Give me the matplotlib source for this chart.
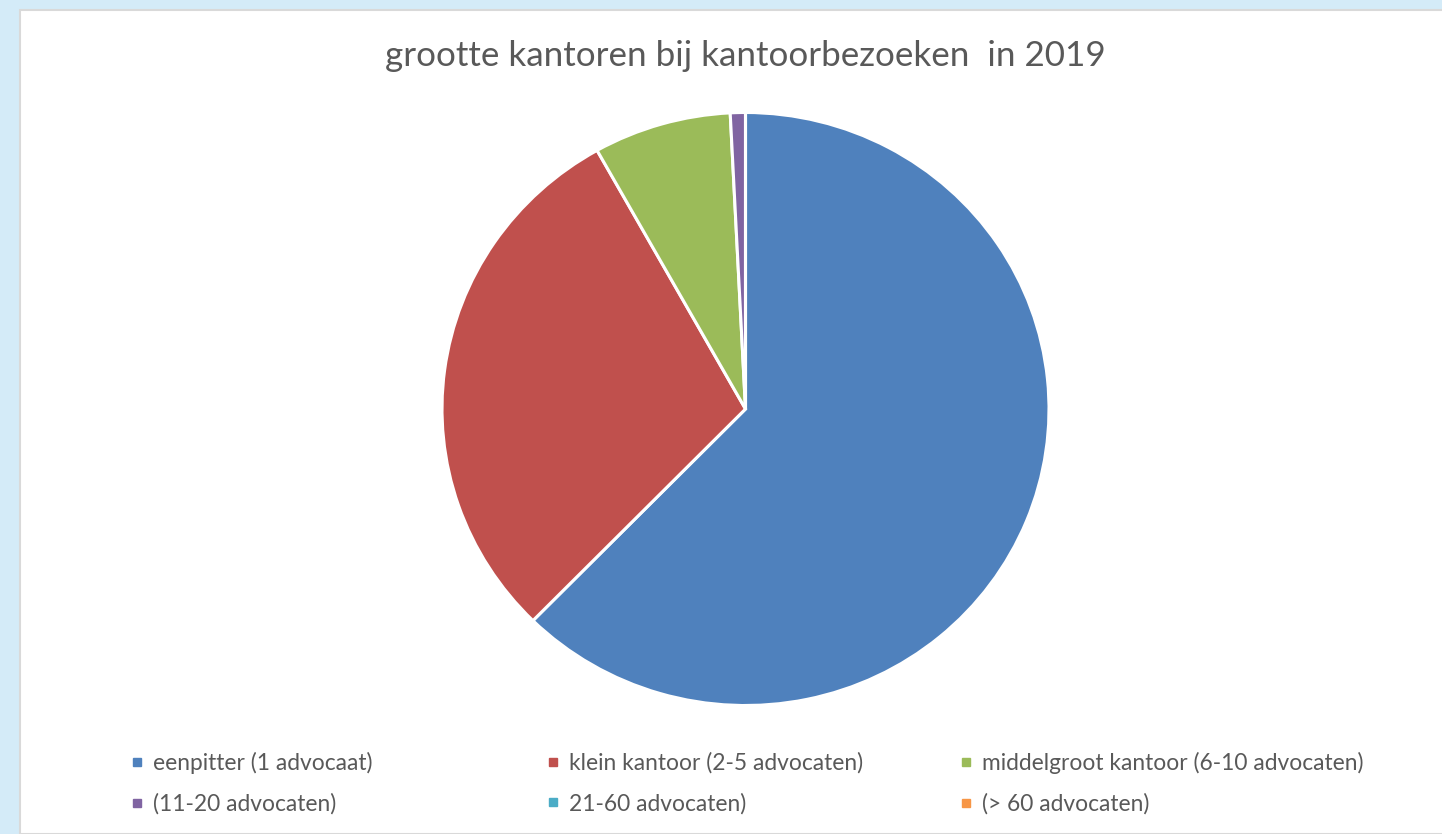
"""Pie chart: grootte kantoren bij kantoorbezoeken in 2019."""

import matplotlib

matplotlib.use("Agg")
import matplotlib.pyplot as plt
from matplotlib.lines import Line2D
from matplotlib.patches import Rectangle

W, H, DPI = 1442, 834, 100

TITLE = "grootte kantoren bij kantoorbezoeken  in 2019"

categories = [
    "eenpitter (1 advocaat)",
    "klein kantoor (2-5 advocaten)",
    "middelgroot kantoor (6-10 advocaten)",
    "(11-20 advocaten)",
    "21-60 advocaten)",
    "(> 60 advocaten)",
]
# share of office visits (%)
shares = [62.1, 29.4, 7.3, 0.8, 0.0, 0.0]
colors = ["#4F81BD", "#C0504D", "#9BBB59", "#8064A2", "#4BACC6", "#F79646"]

TEXT = "#595959"
FONT = "Lato"

fig = plt.figure(figsize=(W / DPI, H / DPI), dpi=DPI)
fig.patch.set_facecolor("#D4EBF8")

# white chart area with the thin grey frame
fig.add_artist(Rectangle((20 / W, 0), 1.0, 1 - 10 / H, transform=fig.transFigure,
                         facecolor="white", edgecolor="#D9D9D9", lw=1.5, zorder=0))

# pie axes: centre ~ (745, 409) px, slightly wider than tall like the screenshot
cx, cy, rx, ry = 745.5, 409, 303.5, 296.5
ax = fig.add_axes([(cx - rx) / W, (H - cy - ry) / H, 2 * rx / W, 2 * ry / H])
wedges, _ = ax.pie(shares, colors=colors, startangle=90, counterclock=False,
                   radius=1.0, wedgeprops=dict(edgecolor="white", linewidth=2.2))
ax.set_aspect("auto")
ax.set_xlim(-1, 1)
ax.set_ylim(-1, 1)
ax.axis("off")

fig.text(745 / W, 1 - 56 / H, TITLE, ha="center", va="center",
         fontsize=25.2, color=TEXT, family=FONT)

# legend: three columns, two rows, like the Excel layout
col_x = [128, 544, 957]
for c, x in enumerate(col_x):
    idx = [c, c + 3]
    handles = [Line2D([], [], ls="none", marker="s", markersize=5.5,
                      markerfacecolor=colors[i], markeredgecolor=colors[i]) for i in idx]
    leg = fig.legend(handles, [categories[i] for i in idx], loc="upper left",
                     bbox_to_anchor=(x / W, 1 - 752 / H), frameon=False,
                     prop=dict(family=FONT, size=16.4), labelcolor=TEXT,
                     handlelength=0.8, handletextpad=0.3, labelspacing=0.84,
                     borderpad=0, borderaxespad=0)

fig.savefig("out.png", dpi=DPI, facecolor=fig.get_facecolor())
